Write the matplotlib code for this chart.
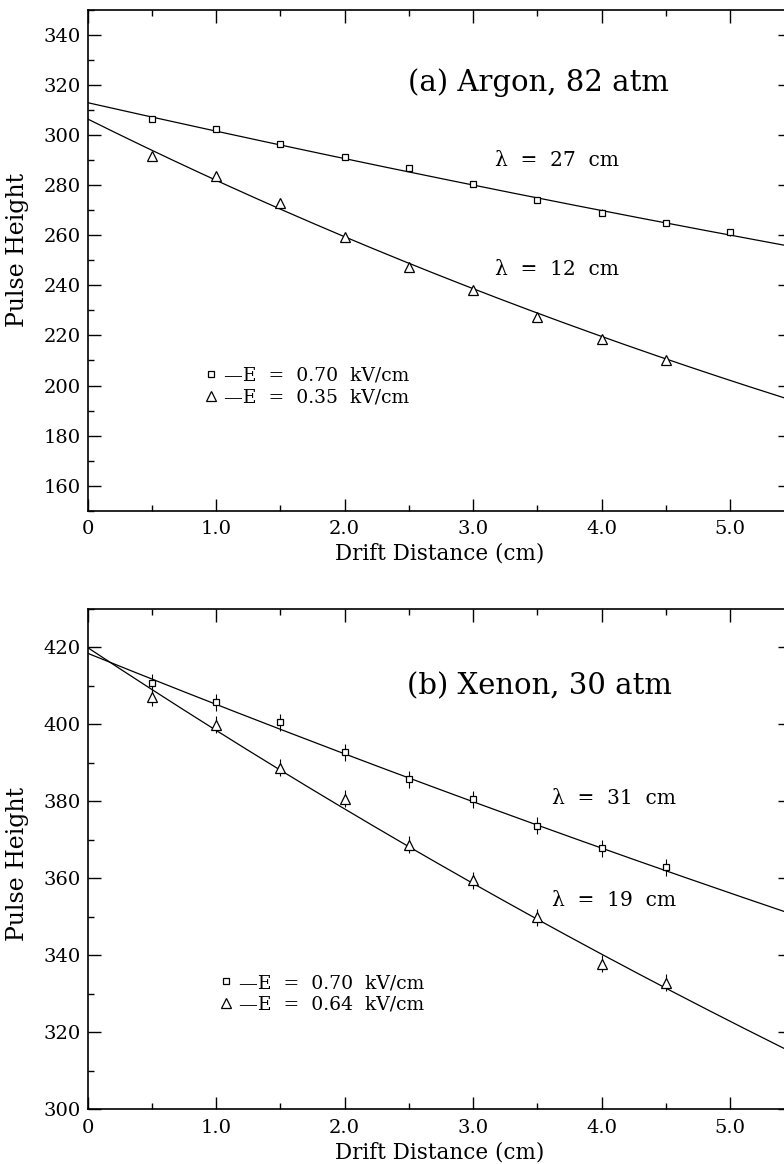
import numpy as np
import matplotlib
matplotlib.use("Agg")
import matplotlib.pyplot as plt
from matplotlib.lines import Line2D
from matplotlib.ticker import MultipleLocator, FixedLocator, FixedFormatter

plt.rcParams['font.family'] = ['DejaVu Serif', 'DejaVu Sans']

# ---------------- data ----------------
# (a) Argon, 82 atm
argon_x_sq = [0.5, 1.0, 1.5, 2.0, 2.5, 3.0, 3.5, 4.0, 4.5, 5.0]
argon_sq = [306.5, 302.5, 296.5, 291.3, 286.8, 280.4, 274.2, 269.1, 265.0, 261.2]
argon_x_tri = [0.5, 1.0, 1.5, 2.0, 2.5, 3.0, 3.5, 4.0, 4.5]
argon_tri = [291.8, 283.7, 272.8, 259.4, 247.4, 238.3, 227.4, 218.4, 210.2]
argon_err = 1.3
argon_fit_amp = [313.0, 306.5]      # squares, triangles
argon_fit_lambda = [27.0, 12.0]     # cm

# (b) Xenon, 30 atm
xenon_x = [0.5, 1.0, 1.5, 2.0, 2.5, 3.0, 3.5, 4.0, 4.5]
xenon_sq = [410.8, 405.7, 400.6, 392.7, 385.7, 380.5, 373.6, 367.8, 362.9]
xenon_tri = [407.0, 399.9, 388.7, 380.7, 368.7, 359.5, 349.8, 337.8, 332.8]
xenon_err = 2.2
xenon_fit_amp = [418.5, 420.0]
xenon_fit_lambda = [31.0, 19.0]

x_ticks = [0, 1, 2, 3, 4, 5]
x_ticklabels = ["0", "1.0", "2.0", "3.0", "4.0", "5.0"]

# ---------------- figure ----------------
W, H = 784, 1164
fig = plt.figure(figsize=(W / 100, H / 100), dpi=100)

x0_px, x1_px = 87.5, 790.0
px_per_cm = 128.5
xmax = (x1_px - x0_px) / px_per_cm


def make_axes(top_px, bot_px):
    return fig.add_axes([x0_px / W, 1 - bot_px / H,
                         (x1_px - x0_px) / W, (bot_px - top_px) / H])


def style(ax, ylim, ymajor):
    ax.set_xlim(0, xmax)
    ax.set_ylim(*ylim)
    ax.xaxis.set_major_locator(FixedLocator(x_ticks))
    ax.xaxis.set_major_formatter(FixedFormatter(x_ticklabels))
    ax.xaxis.set_minor_locator(MultipleLocator(0.5))
    ax.yaxis.set_major_locator(MultipleLocator(ymajor))
    ax.yaxis.set_minor_locator(MultipleLocator(ymajor / 2))
    ax.tick_params(which='both', direction='in', top=True, right=True,
                   width=1.0, labelsize=14)
    ax.tick_params(which='major', length=9)
    ax.tick_params(which='minor', length=4.5)
    ax.tick_params(axis='x', pad=7)
    ax.tick_params(axis='y', pad=5)
    for s in ['left', 'bottom', 'top']:
        ax.spines[s].set_linewidth(1.2)
    ax.spines['right'].set_visible(False)


def panel(ax, xs_sq, ys_sq, xs_tri, ys_tri, err, amps, lams):
    xf = np.linspace(0, xmax, 200)
    for a, lam in zip(amps, lams):
        ax.plot(xf, a * np.exp(-xf / lam), color='black', lw=0.9, zorder=2)
    ax.errorbar(xs_sq, ys_sq, yerr=err, fmt='s', ms=4.5, mfc='white',
                mec='black', mew=0.9, ecolor='black', elinewidth=0.8,
                capsize=0, zorder=3)
    ax.errorbar(xs_tri, ys_tri, yerr=err, fmt='^', ms=7, mfc='white',
                mec='black', mew=0.9, ecolor='black', elinewidth=0.8,
                capsize=0, zorder=3)


def legend(ax, labels, anchor):
    h = [Line2D([], [], marker='s', ls='none', ms=4.5, mfc='white', mec='black', mew=0.9),
         Line2D([], [], marker='^', ls='none', ms=6.5, mfc='white', mec='black', mew=0.9)]
    ax.legend(h, labels, loc='upper left', bbox_to_anchor=anchor,
              frameon=False, fontsize=13.5, handlelength=0.8,
              handletextpad=0.3, labelspacing=0.2, borderpad=0,
              borderaxespad=0)


# Top panel
ax1 = make_axes(10, 510.7)
panel(ax1, argon_x_sq, argon_sq, argon_x_tri, argon_tri, argon_err,
      argon_fit_amp, argon_fit_lambda)
style(ax1, (150, 350), 20)
ax1.text(0.456, 0.855, "(a) Argon, 82 atm", transform=ax1.transAxes,
         fontsize=21, va='center', ha='left')
ax1.text(0.580, 0.699, "λ  =  27  cm", transform=ax1.transAxes,
         fontsize=14.5, va='center', ha='left')
ax1.text(0.580, 0.481, "λ  =  12  cm", transform=ax1.transAxes,
         fontsize=14.5, va='center', ha='left')
legend(ax1, ["—E  =  0.70  kV/cm", "—E  =  0.35  kV/cm"], (0.165, 0.288))
ax1.set_xlabel("Drift Distance (cm)", fontsize=15.5, va='center')
ax1.xaxis.set_label_coords(0.501, -0.085)
ax1.set_ylabel("Pulse Height", fontsize=17, va='center')
ax1.yaxis.set_label_coords(-0.099, 0.52)

# Bottom panel
ax2 = make_axes(609, 1109)
panel(ax2, xenon_x, xenon_sq, xenon_x, xenon_tri, xenon_err,
      xenon_fit_amp, xenon_fit_lambda)
style(ax2, (300, 430), 20)
ax2.text(0.455, 0.845, "(b) Xenon, 30 atm", transform=ax2.transAxes,
         fontsize=21, va='center', ha='left')
ax2.text(0.661, 0.622, "λ  =  31  cm", transform=ax2.transAxes,
         fontsize=14.5, va='center', ha='left')
ax2.text(0.661, 0.418, "λ  =  19  cm", transform=ax2.transAxes,
         fontsize=14.5, va='center', ha='left')
legend(ax2, ["—E  =  0.70  kV/cm", "—E  =  0.64  kV/cm"], (0.187, 0.27))
ax2.set_xlabel("Drift Distance (cm)", fontsize=15.5, va='center')
ax2.xaxis.set_label_coords(0.501, -0.086)
ax2.set_ylabel("Pulse Height", fontsize=17, va='center')
ax2.yaxis.set_label_coords(-0.099, 0.49)

fig.savefig("out.png", dpi=100)
